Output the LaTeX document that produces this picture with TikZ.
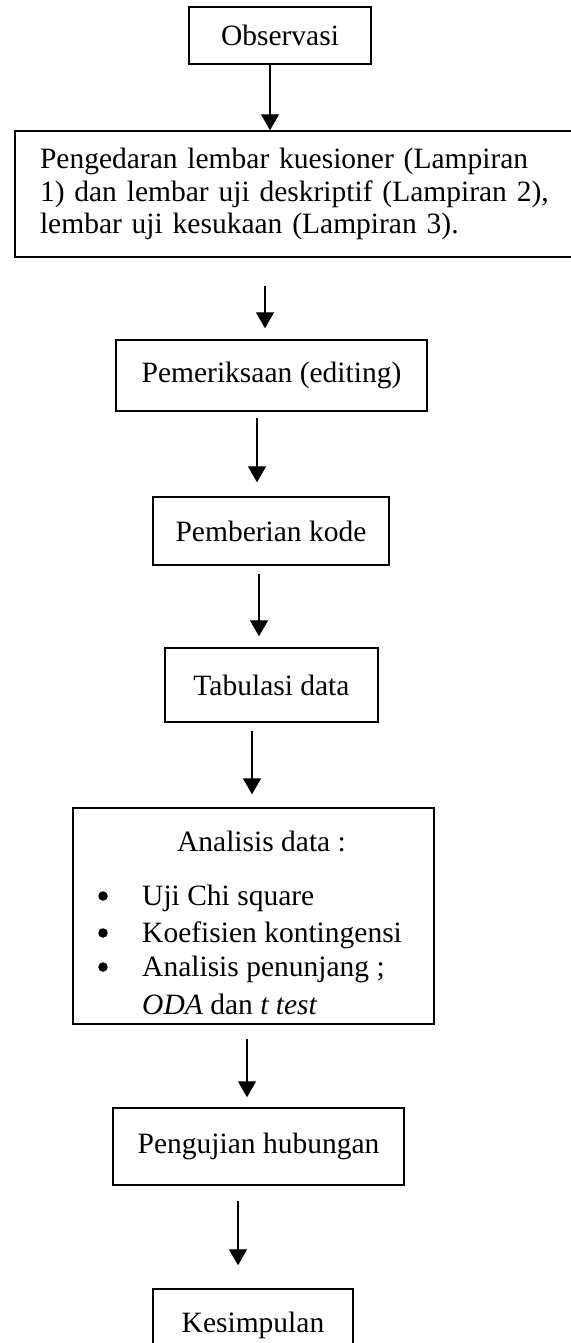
\documentclass[tikz,border=0pt]{standalone}
\usepackage{fontspec}
\setmainfont{Liberation Serif}
\usetikzlibrary{arrows.meta,calc}
\begin{document}
\begin{tikzpicture}[x=1pt,y=-1pt,
  box/.style={draw=black, line width=1.4pt, inner sep=0pt, align=center,
    font=\fontsize{29.5}{32}\selectfont},
  txt/.style={inner sep=0pt, font=\fontsize{29.5}{32}\selectfont},
  bul/.style={circle, fill=black, inner sep=0pt, minimum size=9.5pt},
  arr/.style={line width=1.3pt, -{Triangle[length=16pt,width=18pt]}}]
\useasboundingbox (0,0) rectangle (570,1343);
\fill[white] (0,0) rectangle (570,1343);

\node[box, minimum width=182pt, minimum height=57pt] (obs) at (280,35.5) {Observasi};
\node[box, minimum width=575pt, minimum height=126pt, text width=525pt, inner xsep=25pt, align=left,
  font=\fontsize{29.5}{32.5}\selectfont] (big) at (302.5,194)
  {Pengedaran lembar kuesioner (Lampiran\\1) dan lembar uji deskriptif (Lampiran 2),\\lembar uji kesukaan (Lampiran 3).};
\node[box, minimum width=311pt, minimum height=71pt] (pem) at (271.5,375.5) {Pemeriksaan (editing)};
\node[box, minimum width=236pt, minimum height=68pt] (kode) at (271,531) {Pemberian kode};
\node[box, minimum width=213pt, minimum height=74pt] (tab) at (271.5,685) {Tabulasi data};
\node[box, minimum width=361pt, minimum height=216pt] (ana) at (253.5,916) {};
\node[txt, anchor=base] (anah) at (261.5,851) {Analisis data :};
\node[bul] (b1) at (103,896) {};
\node[bul] (b2) at (103,933) {};
\node[bul] (b3) at (103,967) {};
\node[txt, anchor=base west] (i1) at (142,905) {Uji Chi square};
\node[txt, anchor=base west] (i2) at (142,942) {Koefisien kontingensi};
\node[txt, anchor=base west] (i3) at (142,976) {Analisis penunjang ;};
\node[txt, anchor=base west] (i4) at (142,1014) {\textit{ODA} dan \textit{t test}};
\node[box, minimum width=291pt, minimum height=77pt] (uji) at (258.5,1146.5) {Pengujian hubungan};
\node[box, minimum width=200pt, minimum height=71pt, text depth=0pt] (kes) at (253,1324.5) {\raisebox{4pt}{Kesimpulan}};

\draw[arr] ([xshift=-10pt]obs.south) -- ([xshift=-10pt]obs.south |- big.north);
\draw[arr, shorten <=28pt, shorten >=11pt] ([xshift=-37.5pt]big.south) -- ([xshift=-37.5pt]big.south |- pem.north);
\draw[arr, shorten <=6pt, shorten >=14pt] ([xshift=-14.5pt]pem.south) -- ([xshift=-14.5pt]pem.south |- kode.north);
\draw[arr, shorten <=8pt, shorten >=11pt] ([xshift=-12pt]kode.south) -- ([xshift=-12pt]kode.south |- tab.north);
\draw[arr, shorten <=8pt, shorten >=13pt] ([xshift=-19.5pt]tab.south) -- ([xshift=-19.5pt]tab.south |- ana.north);
\draw[arr, shorten <=14pt, shorten >=10pt] ([xshift=-6.5pt]ana.south) -- ([xshift=-6.5pt]ana.south |- uji.north);
\draw[arr, shorten <=15pt, shorten >=23pt] ([xshift=-20.5pt]uji.south) -- ([xshift=-20.5pt]uji.south |- kes.north);
\end{tikzpicture}
\end{document}
